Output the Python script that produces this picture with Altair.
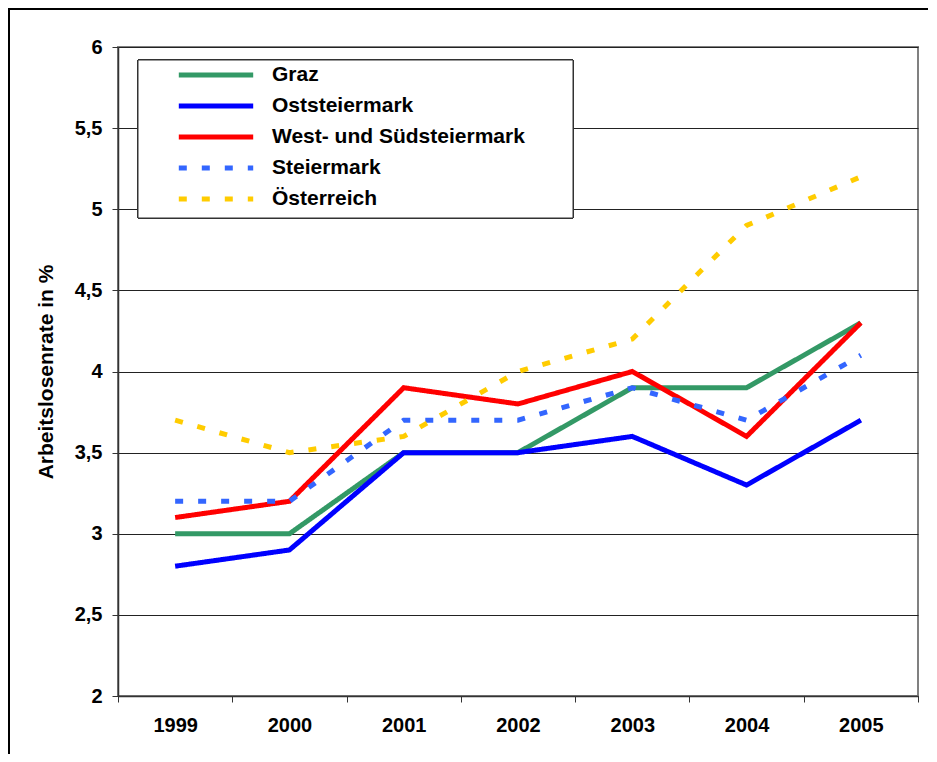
import altair as alt
import pandas as pd

years = ["1999", "2000", "2001", "2002", "2003", "2004", "2005"]
series_names = ["Graz", "Oststeiermark", "West- und Südsteiermark", "Steiermark", "Österreich"]
graz = [3.0, 3.0, 3.5, 3.5, 3.9, 3.9, 4.3]
oststeiermark = [2.8, 2.9, 3.5, 3.5, 3.6, 3.3, 3.7]
west_sued = [3.1, 3.2, 3.9, 3.8, 4.0, 3.6, 4.3]
steiermark = [3.2, 3.2, 3.7, 3.7, 3.9, 3.7, 4.1]
oesterreich = [3.7, 3.5, 3.6, 4.0, 4.2, 4.9, 5.2]
y_ticks = [2, 2.5, 3, 3.5, 4, 4.5, 5, 5.5, 6]

colors = ["#339966", "#0000FF", "#FF0000", "#3366FF", "#FFCC00"]
dashes = [[1, 0], [1, 0], [1, 0], [8, 15], [8, 15]]
widths = [5, 5, 5, 4, 4]

rows = []
for name, vals in zip(series_names, [graz, oststeiermark, west_sued, steiermark, oesterreich]):
    for yr, v in zip(years, vals):
        rows.append({"Jahr": yr, "Wert": v, "Serie": name})
df = pd.DataFrame(rows)

FONT = "Liberation Sans"

x_enc = alt.X("Jahr:O", sort=years,
              scale=alt.Scale(type="band", domain=years, paddingInner=0, paddingOuter=0),
              axis=alt.Axis(title=None, labelAngle=0, tickBand="extent", grid=False,
                            labelFont=FONT, labelFontSize=20, labelFontWeight="bold",
                            labelColor="black", labelPadding=13, tickSize=6,
                            tickColor="#333", domainColor="#333", domainWidth=1.5))
y_enc = alt.Y("Wert:Q",
              scale=alt.Scale(domain=[2, 6], nice=False, zero=False),
              axis=alt.Axis(title="Arbeitslosenrate in %", values=y_ticks,
                            labelExpr="replace(toString(datum.value), '.', ',')",
                            labelFont=FONT, labelFontSize=20, labelFontWeight="bold",
                            labelColor="black", labelPadding=10, tickSize=6,
                            tickColor="#333", domainColor="#333", domainWidth=1.5,
                            grid=True, gridColor="#222", gridWidth=1,
                            titleFont=FONT, titleFontSize=21, titleFontWeight="bold",
                            titleColor="black", titlePadding=18))

# symbol path wider than its layout box: drawn width = 2.4 * 31 px
legend = alt.Legend(title=None, orient="none", legendX=80, legendY=10, padding=0,
                    symbolType="M-2.4,0H2.4", symbolSize=961, labelFont=FONT,
                    labelFontSize=21, labelFontWeight="bold", labelColor="black",
                    labelOffset=38, rowPadding=3, labelLimit=500,
                    symbolStrokeColor="black")

lines = alt.Chart(df).mark_line(strokeCap="butt", strokeJoin="miter").encode(
    x=x_enc,
    y=y_enc,
    color=alt.Color("Serie:N", sort=series_names,
                    scale=alt.Scale(domain=series_names, range=colors), legend=legend),
    strokeDash=alt.StrokeDash("Serie:N", sort=series_names,
                              scale=alt.Scale(domain=series_names, range=dashes), legend=legend),
    strokeWidth=alt.StrokeWidth("Serie:N", sort=series_names,
                                scale=alt.Scale(domain=series_names, range=widths), legend=legend),
    order=alt.Order("Jahr:O"),
)

legend_box = alt.Chart(df).mark_rect(fill="white", stroke="#333", strokeWidth=1).encode(
    x=alt.value(20), x2=alt.value(455), y=alt.value(13), y2=alt.value(171)
)

frame_top = alt.Chart(df).mark_rule(color="black", strokeWidth=1.5, clip=False).encode(
    x=alt.value(-110), x2=alt.value(830), y=alt.value(-38.5)
)
frame_left = alt.Chart(df).mark_rule(color="black", strokeWidth=1.5, clip=False).encode(
    x=alt.value(-109), y=alt.value(-39), y2=alt.value(720)
)

chart = alt.layer(legend_box, lines, frame_top, frame_left).properties(
    width=800, height=649,
    autosize=alt.AutoSizeParams(type="none"),
    padding={"left": 110, "top": 39, "right": 10, "bottom": 58},
    background="white",
).configure_view(stroke="#808080", strokeWidth=2)

chart.save("out.html", embed_options={"renderer": "svg", "actions": False})
